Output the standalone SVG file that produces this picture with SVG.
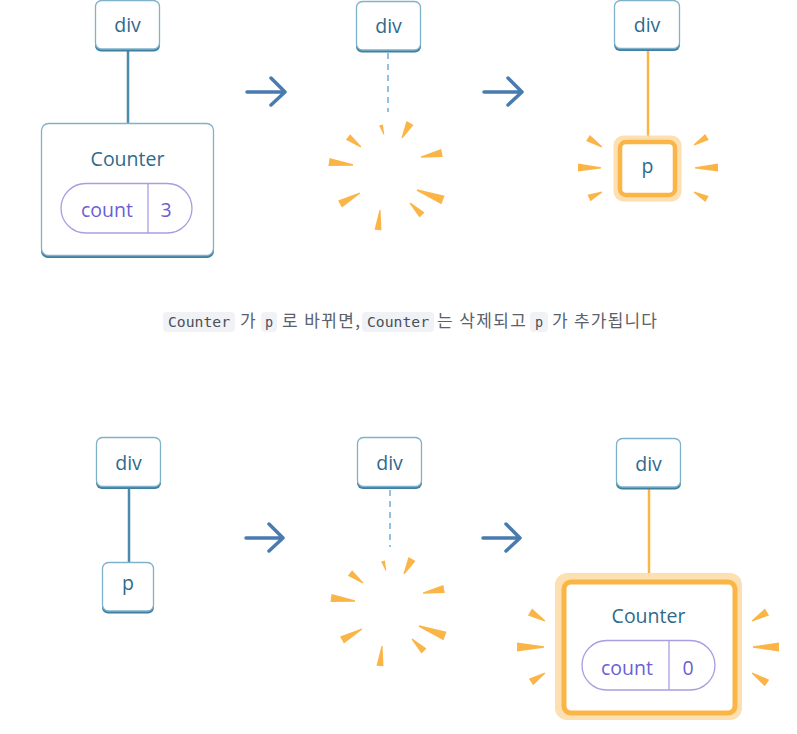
<svg xmlns="http://www.w3.org/2000/svg" width="797" height="734" viewBox="0 0 797 734">
<defs>
<style>
.nodeShadow{fill:#3f7fa0}
.node{fill:#ffffff;stroke:#7fb2ca;stroke-width:1.3}
.lbl{font-family:"Open Sans","Liberation Sans",sans-serif;font-size:19.5px;fill:#2f6a8c;text-anchor:middle}
.pill{fill:#ffffff;stroke:#a79ee2;stroke-width:1.3}
.pilltxt{font-family:"Open Sans","Liberation Sans",sans-serif;font-size:19.5px;fill:#6b5fd3;text-anchor:middle}
.edge{stroke:#4a8bab;stroke-width:2.5;fill:none}
.edgeO{stroke:#fbb546;stroke-width:2.5;fill:none}
.dash{stroke:#92c2e2;stroke-width:2;stroke-dasharray:6 5;fill:none}
.arrow{stroke:#4a7bb0;stroke-width:3.5;fill:none;stroke-linecap:round;stroke-linejoin:round}
.ray{fill:#fbb546}
.glow{fill:#fde0b2}
.hl{fill:#ffffff;stroke:#fbb546}
.code{fill:#f1f2f5}
.codetxt{font-family:"DejaVu Sans Mono","Liberation Mono",monospace;font-size:13.5px;fill:#4a4f5a;text-anchor:middle}
.cap{font-family:"Noto Sans CJK KR","Noto Sans",sans-serif;font-size:17px;fill:#5b616b}
</style>
<polygon id="w" points="0,-0.5 1,-0.08 1,0.08 0,0.5"/>
<g id="burst">
<use href="#w" class="ray" transform="translate(381,125) rotate(73.3) scale(10.4,4)"/>
<use href="#w" class="ray" transform="translate(410,123) rotate(118.1) scale(17,8)"/>
<use href="#w" class="ray" transform="translate(348,137) rotate(37.6) scale(16.4,7)"/>
<use href="#w" class="ray" transform="translate(442,153) rotate(169.2) scale(21.4,8)"/>
<use href="#w" class="ray" transform="translate(329,162) rotate(7.1) scale(24.2,8)"/>
<use href="#w" class="ray" transform="translate(443,200) rotate(201) scale(27.9,9)"/>
<use href="#w" class="ray" transform="translate(340,204) rotate(-28.8) scale(22.8,8)"/>
<use href="#w" class="ray" transform="translate(422,215) rotate(-135) scale(17,7)"/>
<use href="#w" class="ray" transform="translate(378,230) rotate(-84.3) scale(20.1,7)"/>
</g>
</defs>
<rect width="797" height="734" fill="#ffffff"/>

<g id="connectors">
<line class="edge" x1="128" y1="50" x2="128" y2="124"/>
<line class="dash" x1="388" y1="53" x2="388" y2="112"/>
<line class="edgeO" x1="648" y1="50" x2="648" y2="138"/>
<line class="edge" x1="129" y1="489" x2="129" y2="563"/>
<line class="dash" x1="390" y1="490" x2="390" y2="547"/>
<line class="edgeO" x1="649" y1="489" x2="649" y2="576"/>
<path class="arrow" d="M247,92 H285 M271,78 L285,92 L271,105"/>
<path class="arrow" d="M484,92 H522 M508,78 L522,92 L508,105"/>
<path class="arrow" d="M246,538 H283 M269,524 L283,538 L269,551"/>
<path class="arrow" d="M483,538 H520 M506,524 L520,538 L506,551"/>
</g>

<g id="div1">
<rect class="nodeShadow" x="95" y="2" width="65" height="49.5" rx="6"/>
<rect class="node" x="95.5" y="0.5" width="64" height="48.5" rx="6"/>
<text class="lbl" x="127.5" y="32">div</text>
</g>
<g id="counter1">
<rect class="nodeShadow" x="41" y="125" width="173" height="133" rx="7"/>
<rect class="node" x="41.5" y="123.5" width="172" height="132" rx="7"/>
<text class="lbl" x="127.5" y="166">Counter</text>
<rect class="pill" x="61" y="183.5" width="131" height="49.5" rx="24.75"/>
<line x1="148" y1="183.5" x2="148" y2="233" stroke="#a79ee2" stroke-width="1.3"/>
<text class="pilltxt" x="107" y="217">count</text>
<text class="pilltxt" x="166" y="217">3</text>
</g>

<g id="div2">
<rect class="nodeShadow" x="356" y="3" width="65" height="49.5" rx="6"/>
<rect class="node" x="356.5" y="1.5" width="64" height="48.5" rx="6"/>
<text class="lbl" x="388.5" y="33">div</text>
</g>
<g id="burst1"><use href="#burst"/></g>

<g id="div3">
<rect class="nodeShadow" x="614" y="2" width="66" height="49" rx="6"/>
<rect class="node" x="614.5" y="0.5" width="65" height="48" rx="6"/>
<text class="lbl" x="647" y="32">div</text>
</g>
<g id="p1">
<rect class="glow" x="613.5" y="135.5" width="68" height="66" rx="10"/>
<rect class="hl" x="620" y="142" width="55" height="53" rx="6" stroke-width="4.5"/>
<text class="lbl" x="647.5" y="173">p</text>
<use href="#w" class="ray" transform="translate(588,138) rotate(32.7) scale(16.6,7)"/>
<use href="#w" class="ray" transform="translate(578,167.5) rotate(1) scale(23,8)"/>
<use href="#w" class="ray" transform="translate(589,198) rotate(-24.8) scale(14.3,7)"/>
<use href="#w" class="ray" transform="translate(707,137) rotate(148.4) scale(15.3,7)"/>
<use href="#w" class="ray" transform="translate(718,167.5) rotate(179) scale(23,8)"/>
<use href="#w" class="ray" transform="translate(707,199) rotate(-151.7) scale(14.8,7)"/>
</g>

<g id="caption">
<rect class="code" x="163" y="312" width="72" height="20" rx="4"/>
<text class="codetxt" x="199" y="327" textLength="62" lengthAdjust="spacingAndGlyphs">Counter</text>
<text class="cap" x="240" y="327">가</text>
<rect class="code" x="261" y="312" width="16" height="20" rx="4"/>
<text class="codetxt" x="269" y="327">p</text>
<text class="cap" x="282" y="327" textLength="78" lengthAdjust="spacing">로 바뀌면,</text>
<rect class="code" x="362" y="312" width="72" height="20" rx="4"/>
<text class="codetxt" x="398" y="327" textLength="62" lengthAdjust="spacingAndGlyphs">Counter</text>
<text class="cap" x="437" y="327" textLength="89" lengthAdjust="spacing">는 삭제되고</text>
<rect class="code" x="530" y="312" width="18" height="20" rx="4"/>
<text class="codetxt" x="539" y="327">p</text>
<text class="cap" x="552" y="327" textLength="105" lengthAdjust="spacing">가 추가됩니다</text>
</g>

<g id="div4">
<rect class="nodeShadow" x="96" y="439" width="65" height="50" rx="6"/>
<rect class="node" x="96.5" y="437.5" width="64" height="49" rx="6"/>
<text class="lbl" x="128.5" y="470">div</text>
</g>
<g id="p2">
<rect class="nodeShadow" x="102" y="564" width="52" height="49.5" rx="6"/>
<rect class="node" x="102.5" y="562.5" width="51" height="48.5" rx="6"/>
<text class="lbl" x="128" y="590">p</text>
</g>

<g id="div5">
<rect class="nodeShadow" x="357" y="439" width="65" height="50" rx="6"/>
<rect class="node" x="357.5" y="437.5" width="64" height="49" rx="6"/>
<text class="lbl" x="389.5" y="470">div</text>
</g>
<g id="burst2"><use href="#burst" transform="translate(2,436)"/></g>

<g id="div6">
<rect class="nodeShadow" x="616" y="440" width="65" height="49.5" rx="6"/>
<rect class="node" x="616.5" y="438.5" width="64" height="48.5" rx="6"/>
<text class="lbl" x="648.5" y="471">div</text>
</g>
<g id="counter2">
<rect class="glow" x="555" y="573" width="187" height="147" rx="12"/>
<rect class="hl" x="564" y="582" width="171" height="131" rx="7" stroke-width="5"/>
<text class="lbl" x="648.5" y="623">Counter</text>
<rect class="pill" x="582" y="640.5" width="133" height="49.5" rx="24.75"/>
<line x1="669" y1="640.5" x2="669" y2="690" stroke="#a79ee2" stroke-width="1.3"/>
<text class="pilltxt" x="627" y="675">count</text>
<text class="pilltxt" x="688" y="675">0</text>
<use href="#w" class="ray" transform="translate(530,612) rotate(31) scale(17.5,8)"/>
<use href="#w" class="ray" transform="translate(517,647) rotate(0) scale(27,9)"/>
<use href="#w" class="ray" transform="translate(531,682) rotate(-32.7) scale(16.6,8)"/>
<use href="#w" class="ray" transform="translate(767,612) rotate(149) scale(17.5,8)"/>
<use href="#w" class="ray" transform="translate(779,647) rotate(180) scale(26,9)"/>
<use href="#w" class="ray" transform="translate(767,683) rotate(-146.3) scale(18,8)"/>
</g>
</svg>
